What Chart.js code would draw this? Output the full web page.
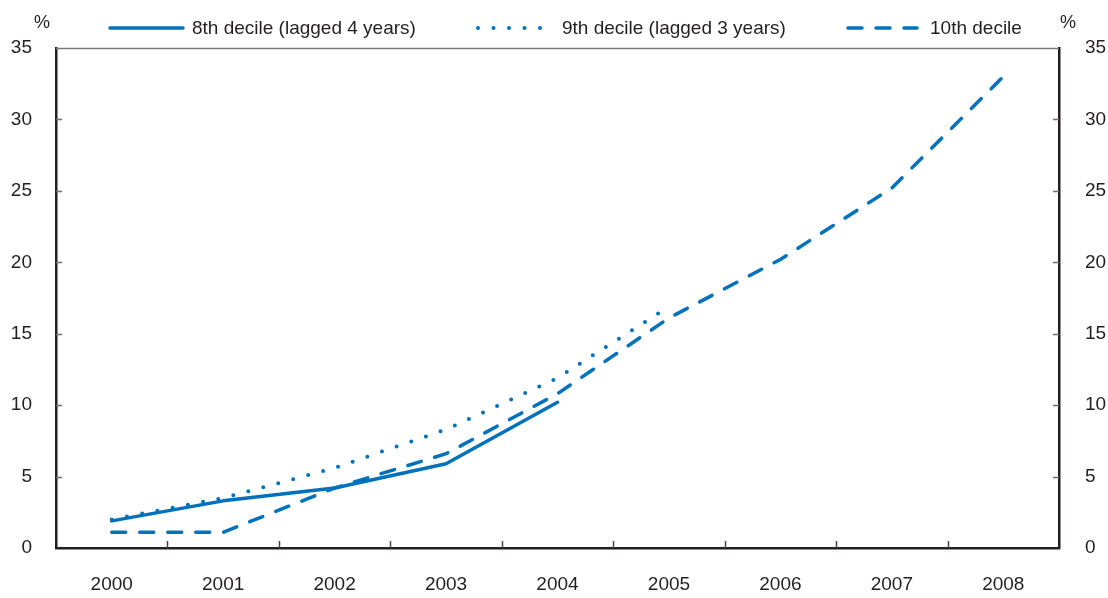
<!DOCTYPE html>
<html>
<head>
<meta charset="utf-8">
<script src="https://cdn.jsdelivr.net/npm/chart.js@4.4.1/dist/chart.umd.min.js"></script>
<style>
html,body{margin:0;padding:0;background:#fff;}
#wrap{width:1108px;height:598px;}
</style>
</head>
<body>
<div id="wrap"><canvas id="c" width="1108" height="598"></canvas></div>
<script>
// ---- data ----
const years = ['2000','2001','2002','2003','2004','2005','2006','2007','2008'];
const decile8 = [1.9, 3.3, 4.2, 5.9, 10.2, null, null, null, null];
const decile9 = [2.0, 3.5, 5.6, 8.3, 11.9, 16.9, null, null, null];
const decile10 = [1.1, 1.1, 4.2, 6.6, 10.8, 16.1, 20.2, 25.2, 33.0];
const seriesNames = ['8th decile (lagged 4 years)', '9th decile (lagged 3 years)', '10th decile'];
const yMin = 0, yMax = 35, yStep = 5;
const unitLabel = '%';

const BLUE = '#0071bc';
const TEXT = '#231f20';
const FONT = "'Liberation Sans', Arial, Helvetica, sans-serif";
const FS = 19;

Chart.defaults.font.family = FONT;
Chart.defaults.font.size = FS;
Chart.defaults.color = TEXT;

// legend layout (positions only)
const legendLayout = [
  {x0: 110, x1: 183, tx: 192},
  {x0: 478, x1: 544, tx: 562},
  {x0: 848, x1: 917, tx: 930}
];
const legendY = 28;

const decor = {
  id: 'decor',
  afterDraw(chart) {
    const ctx = chart.ctx;
    const a = chart.chartArea;
    const xs = chart.scales.x, ys = chart.scales.y, ys2 = chart.scales.y2;
    ctx.save();
    // top frame line
    ctx.strokeStyle = '#7a7a7a';
    ctx.lineWidth = 1.5;
    ctx.beginPath();
    ctx.moveTo(a.left, a.top + 0.5);
    ctx.lineTo(a.right, a.top + 0.5);
    ctx.stroke();
    // inward y ticks
    ctx.strokeStyle = '#6d6d6d';
    ctx.lineWidth = 1.5;
    ys.ticks.forEach(t => {
      const py = Math.round(ys.getPixelForValue(t.value)) + 0.5;
      if (t.value === yMin || t.value === yMax) return;
      ctx.beginPath(); ctx.moveTo(a.left, py); ctx.lineTo(a.left + 6, py); ctx.stroke();
    });
    ys2.ticks.forEach(t => {
      const py = Math.round(ys2.getPixelForValue(t.value)) + 0.5;
      if (t.value === yMin || t.value === yMax) return;
      ctx.beginPath(); ctx.moveTo(a.right, py); ctx.lineTo(a.right - 6, py); ctx.stroke();
    });
    // inward x ticks at category boundaries
    ctx.strokeStyle = '#444';
    for (let i = 1; i < years.length; i++) {
      const px = Math.round((xs.getPixelForValue(i - 1) + xs.getPixelForValue(i)) / 2) + 0.5;
      ctx.beginPath(); ctx.moveTo(px, a.bottom); ctx.lineTo(px, a.bottom - 7); ctx.stroke();
    }
    // unit labels
    ctx.fillStyle = TEXT;
    ctx.font = '18px ' + FONT;
    ctx.textAlign = 'center';
    ctx.textBaseline = 'middle';
    ctx.fillText(unitLabel, 42, 23);
    ctx.fillText(unitLabel, 1068, 23);
    // legend
    chart.data.datasets.forEach((ds, i) => {
      const L = legendLayout[i];
      ctx.save();
      ctx.strokeStyle = ds.borderColor;
      ctx.lineWidth = ds.legendWidth || ds.borderWidth;
      ctx.lineCap = ds.borderCapStyle || 'butt';
      ctx.setLineDash(ds.borderDash || []);
      ctx.beginPath();
      ctx.moveTo(L.x0, legendY);
      ctx.lineTo(L.x1, legendY);
      ctx.stroke();
      ctx.restore();
      ctx.fillStyle = TEXT;
      ctx.font = FS + 'px ' + FONT;
      ctx.textAlign = 'left';
      ctx.textBaseline = 'middle';
      ctx.fillText(ds.label, L.tx, legendY + 1);
    });
    ctx.restore();
  }
};

new Chart(document.getElementById('c'), {
  type: 'line',
  data: {
    labels: years,
    datasets: [
      {label: seriesNames[0], data: decile8, borderColor: BLUE, borderWidth: 3.5,
       borderCapStyle: 'round', borderJoinStyle: 'round', pointRadius: 0, tension: 0, spanGaps: false, legendWidth: 3.5},
      {label: seriesNames[1], data: decile9, borderColor: BLUE, borderWidth: 4,
       borderDash: [0, 15.5], borderCapStyle: 'round', pointRadius: 0, tension: 0, legendWidth: 4},
      {label: seriesNames[2], data: decile10, borderColor: BLUE, borderWidth: 3.5,
       borderDash: [14, 14], borderCapStyle: 'round', pointRadius: 0, tension: 0, legendWidth: 3.5}
    ]
  },
  options: {
    responsive: false,
    devicePixelRatio: 1,
    animation: false,
    layout: {padding: {top: 48, left: 0, right: 0, bottom: 0}},
    plugins: {legend: {display: false}, tooltip: {enabled: false}},
    scales: {
      x: {
        type: 'category',
        offset: true,
        grid: {display: true, drawOnChartArea: false, drawTicks: false, offset: true},
        border: {display: true, color: '#231f20', width: 2.5},
        ticks: {padding: 25, color: TEXT, font: {size: FS}, maxRotation: 0, autoSkip: false},
        afterFit(s) { s.height = 50; }
      },
      y: {
        position: 'left',
        min: yMin, max: yMax,
        grid: {display: true, drawOnChartArea: false, drawTicks: false},
        border: {display: true, color: '#231f20', width: 2.5},
        ticks: {stepSize: yStep, padding: 24, color: TEXT, font: {size: FS}},
        afterFit(s) { s.width = 56; }
      },
      y2: {
        position: 'right',
        min: yMin, max: yMax,
        grid: {display: true, drawOnChartArea: false, drawTicks: false},
        border: {display: true, color: '#231f20', width: 2.5},
        ticks: {stepSize: yStep, padding: 26, color: TEXT, font: {size: FS}},
        afterFit(s) { s.width = 49; }
      }
    }
  },
  plugins: [decor]
});
</script>
</body>
</html>
